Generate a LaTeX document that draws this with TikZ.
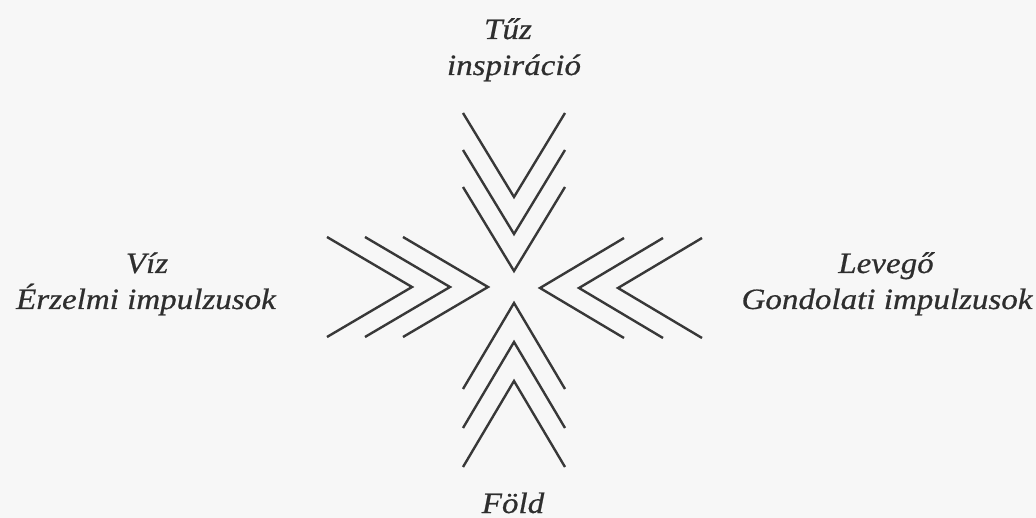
\documentclass[tikz,border=0pt]{standalone}
\usepackage{fontspec}
\newfontfamily\labfont[FakeStretch=1.12,FakeBold=0.6]{Liberation Serif}
\begin{document}
\begin{tikzpicture}[x=1pt,y=-1pt,
  chev/.style={draw=black!78, line width=2.4pt, line join=miter},
  lab/.style={font=\labfont\itshape\fontsize{29.5}{34}\selectfont, text=black!82, inner sep=0pt, anchor=base}]
\fill[black!3] (0,0) rectangle (1036,518);
\useasboundingbox (0,0) rectangle (1036,518);
% top (Tuz) chevrons pointing down
\foreach \y in {197,234,271} \draw[chev] (463,\y-84) -- (514,\y) -- (565,\y-84);
% bottom (Fold) chevrons pointing up
\foreach \y in {303,342,381} \draw[chev] (463,\y+86) -- (514,\y) -- (565,\y+86);
% left (Viz) chevrons pointing right
\foreach \x in {412,450,488} \draw[chev] (\x-85,237) -- (\x,287) -- (\x-85,337);
% right (Levego) chevrons pointing left
\foreach \x in {540,579,618} \draw[chev] (\x+84,238) -- (\x,288) -- (\x+84,338);
% labels
\node[lab] (tuz) at (508,39) {Tűz};
\node[lab] (insp) at (514,75) {inspiráció};
\node[lab] (viz) at (147,273) {Víz};
\node[lab] (erz) at (146,309) {Érzelmi impulzusok};
\node[lab] (lev) at (886,273) {Levegő};
\node[lab] (gond) at (887,309) {Gondolati impulzusok};
\node[lab] (fold) at (513,513) {Föld};
\end{tikzpicture}
\end{document}
